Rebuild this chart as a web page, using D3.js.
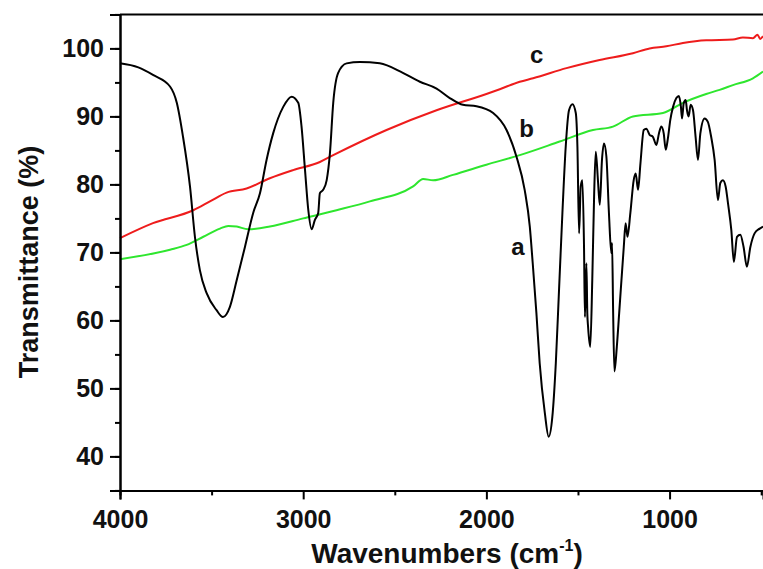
<!DOCTYPE html>
<html><head><meta charset="utf-8">
<script src="https://cdn.jsdelivr.net/npm/d3@7"></script>
<style>
body{margin:0;background:#fff;}
text{font-family:"Liberation Sans",Arial,sans-serif;font-weight:bold;fill:#111;}
</style></head>
<body><svg id="c" width="763" height="569"></svg>
<script>
// Curve a (black): [wavenumber, transmittance]
const curveA = [[4000,97.8],[3900,97.2],[3820,96.1],[3727,94.4],[3690,92.0],[3656,87.0],[3618,79.7],[3591,72.3],[3564,67.4],[3527,64.0],[3473,61.5],[3438,60.5],[3400,62.0],[3363,65.9],[3318,70.8],[3273,75.8],[3236,78.7],[3200,83.6],[3164,87.5],[3109,91.4],[3063,92.9],[3027,92.0],[3009,88.5],[2990,82.1],[2972,76.2],[2954,73.4],[2936,74.8],[2918,75.8],[2909,78.7],[2891,79.2],[2872,80.6],[2854,84.6],[2836,92.0],[2809,96.4],[2763,97.8],[2690,98.0],[2582,97.8],[2456,96.4],[2363,95.1],[2272,94.1],[2200,92.7],[2128,91.7],[2054,91.5],[1963,90.5],[1890,88.0],[1836,84.1],[1791,79.2],[1763,73.8],[1747,68.4],[1727,61.1],[1709,53.7],[1681,46.4],[1660,42.9],[1640,45.8],[1621,53.7],[1605,63.5],[1585,75.8],[1567,85.5],[1549,90.9],[1530,91.8],[1512,90.5],[1503,85.5],[1494,72.8],[1485,79.7],[1476,80.6],[1467,70.8],[1462,60.5],[1454,68.4],[1449,61.0],[1445,59.1],[1433,56.1],[1422,65.9],[1412,78.2],[1403,84.8],[1391,80.6],[1381,77.0],[1369,83.6],[1358,86.0],[1345,84.1],[1331,75.8],[1318,69.9],[1314,71.4],[1308,61.1],[1301,52.5],[1288,56.1],[1275,61.1],[1250,70.8],[1240,74.3],[1230,72.3],[1214,75.8],[1196,80.6],[1185,81.6],[1172,79.2],[1159,83.1],[1141,88.0],[1127,88.2],[1109,87.3],[1091,87.0],[1072,85.8],[1058,87.5],[1045,88.5],[1032,87.5],[1021,85.1],[1009,86.8],[996,89.5],[981,91.4],[963,92.7],[949,93.0],[938,91.4],[932,89.7],[923,91.9],[912,92.4],[905,90.9],[896,90.0],[885,91.7],[872,90.9],[858,87.0],[845,83.6],[832,87.5],[809,89.7],[791,89.2],[773,87.0],[754,83.6],[736,77.7],[723,80.2],[709,80.6],[694,79.7],[681,77.2],[663,73.3],[649,68.6],[632,72.3],[614,72.6],[596,70.8],[578,67.9],[559,70.8],[536,72.8],[508,73.5],[490,73.8]];
// Curve b (green)
const curveB = [[4000,69.0],[3727,70.4],[3636,71.1],[3545,72.3],[3454,73.5],[3409,73.9],[3363,73.8],[3300,73.4],[3182,73.8],[3000,75.0],[2818,76.2],[2636,77.5],[2400,79.7],[2345,80.8],[2291,80.6],[2182,81.4],[2000,82.9],[1818,84.3],[1600,86.3],[1418,88.0],[1309,88.5],[1200,90.0],[1036,90.5],[927,92.0],[800,93.3],[727,93.9],[654,94.6],[545,95.6],[490,96.6]];
// Curve c (red)
const curveC = [[4000,72.1],[3820,74.3],[3600,76.2],[3509,77.5],[3418,78.8],[3309,79.4],[3182,80.9],[3055,82.1],[2909,83.3],[2836,84.3],[2545,88.0],[2272,90.9],[2000,93.3],[1927,94.0],[1818,95.1],[1745,95.6],[1563,97.1],[1382,98.3],[1200,99.3],[1109,100.0],[1018,100.3],[927,100.8],[800,101.2],[654,101.3],[600,101.6],[545,101.5],[520,102.0],[505,101.4],[490,101.8]];
const yTicks = [40,50,60,70,80,90,100];
const xTicks = [4000,3000,2000,1000];
const labels = [["a",1828,69.6],["b",1780,86.9],["c",1725,97.9]];

const svg = d3.select("#c");
const x = d3.scaleLinear().domain([4000,490]).range([120,763]);
const y = d3.scaleLinear().domain([35,105]).range([490.4,14.4]);

const line = d3.line().x(d=>x(d[0])).y(d=>y(d[1])).curve(d3.curveMonotoneX);

svg.append("path").datum(curveC).attr("d",line).attr("fill","none").attr("stroke","#ee1c1c").attr("stroke-width",2);
svg.append("path").datum(curveB).attr("d",line).attr("fill","none").attr("stroke","#2ee62e").attr("stroke-width",2);
svg.append("path").datum(curveA).attr("d",line).attr("fill","none").attr("stroke","#000").attr("stroke-width",2);

// top frame
svg.append("line").attr("x1",120).attr("x2",763).attr("y1",y(105)).attr("y2",y(105)).attr("stroke","#000").attr("stroke-width",2);

// Y axis
const ya = svg.append("g").attr("transform","translate(120,0)");
ya.call(d3.axisLeft(y).tickValues(d3.range(35,105.1,5)).tickSize(5).tickFormat(""));
const yb = svg.append("g").attr("transform","translate(120,0)");
yb.call(d3.axisLeft(y).tickValues(yTicks).tickSize(10).tickPadding(6));
// X axis
const xa = svg.append("g").attr("transform","translate(0,490.4)");
xa.call(d3.axisBottom(x).tickValues([3500,2500,1500,500]).tickSize(5).tickFormat(""));
const xb = svg.append("g").attr("transform","translate(0,490.4)");
xb.call(d3.axisBottom(x).tickValues(xTicks).tickSize(9).tickPadding(11).tickFormat(d3.format("d")));

svg.selectAll(".domain").attr("stroke","#000").attr("stroke-width",2);
svg.selectAll(".tick line").attr("stroke","#000").attr("stroke-width",2);
svg.selectAll(".tick text").style("font-size","25px").style("font-family","'Liberation Sans',Arial,sans-serif").style("font-weight","bold").attr("fill","#111");

// axis titles
svg.append("text").attr("transform","translate(38,262) rotate(-90)").attr("text-anchor","middle").style("font-size","27px").text("Transmittance (%)");
const xt = svg.append("text").attr("x",447).attr("y",563).attr("text-anchor","middle").style("font-size","28px");
xt.append("tspan").text("Wavenumbers (cm");
xt.append("tspan").attr("dy",-12).style("font-size","16px").text("-1");
xt.append("tspan").attr("dy",12).text(")");

// curve labels
svg.selectAll(".lab").data(labels).enter().append("text").attr("class","lab")
  .attr("x",d=>x(d[1])).attr("y",d=>y(d[2])).attr("text-anchor","middle")
  .style("font-size","24px").text(d=>d[0]);
</script></body></html>
